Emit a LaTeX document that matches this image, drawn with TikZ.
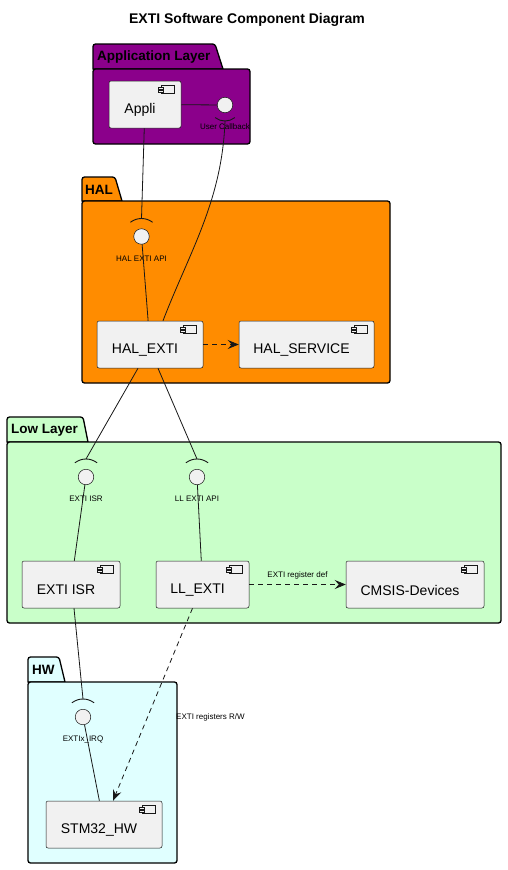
\documentclass[tikz,border=0pt]{standalone}
\usepackage{fontspec}
\setmainfont{Liberation Sans}
\usetikzlibrary{arrows.meta,calc}
\definecolor{appcol}{HTML}{8B008B}
\definecolor{halcol}{HTML}{FF8C00}
\definecolor{llcol}{HTML}{C9FFC9}
\definecolor{hwcol}{HTML}{E0FFFF}
\definecolor{compfill}{HTML}{F1F1F1}
\definecolor{compline}{HTML}{181818}
\tikzset{
  comp/.style={draw=compline, fill=compfill, line width=0.5pt, rounded corners=2pt,
    minimum height=47pt, inner sep=0pt},
  ctext/.style={font=\fontsize{14pt}{16pt}\selectfont, text=black, xshift=-5pt, yshift=-5.5pt},
  iface/.style={circle, draw=compline, fill=compfill, line width=0.5pt, minimum size=15.5pt, inner sep=0pt},
  ilabel/.style={font=\fontsize{8pt}{9pt}\selectfont, text=black, inner sep=0pt},
  pkgline/.style={draw=black, line width=1.3pt},
  pkgtitle/.style={font=\bfseries\fontsize{13.5pt}{15pt}\selectfont, text=black, inner sep=0pt, anchor=west},
  conn/.style={draw=compline, line width=0.8pt},
  dconn/.style={conn, dash pattern=on 5pt off 4pt, -{Stealth[length=11pt,width=9pt,inset=4pt]}},
  sock/.style={draw=compline, line width=0.9pt},
}
\newcommand{\compicon}[1]{%
  \draw[draw=compline, fill=compfill, line width=0.5pt] ($(#1.north east)+(-20,4)$) rectangle ($(#1.north east)+(-7,12)$);
  \draw[draw=compline, fill=compfill, line width=0.5pt] ($(#1.north east)+(-23,6)$) rectangle ($(#1.north east)+(-18.5,8)$);
  \draw[draw=compline, fill=compfill, line width=0.5pt] ($(#1.north east)+(-23,9.5)$) rectangle ($(#1.north east)+(-18.5,11.5)$);
}
% package: #1 left, #2 tab top, #3 tab bottom, #4 tab right top, #5 tab right bottom, #6 right, #7 bottom, #8 fill
\newcommand{\pkgbox}[8]{%
  \path[pkgline, fill=#8, rounded corners=2.5pt] (#1,#3) -- (#1,#2) -- (#4,#2) [sharp corners] -- (#5,#3) -- cycle;
  \path[pkgline, fill=#8, rounded corners=2.5pt] (#1,#3) rectangle (#6,#7);
}
\begin{document}
\begin{tikzpicture}[x=1pt,y=-1pt]
\useasboundingbox (0,0) rectangle (507,870);
\fill[white] (0,0) rectangle (507,870);

% title
\node[font=\bfseries\fontsize{14pt}{16pt}\selectfont] (title) at (247,20) {EXTI Software Component Diagram};

% packages
\pkgbox{93}{44}{69}{215}{223}{250}{144}{appcol}
\node[pkgtitle] (pkgapp) at (97,57) {Application Layer};
\pkgbox{82}{177}{201}{115}{122}{390}{383}{halcol}
\node[pkgtitle] (pkghal) at (85,190) {HAL};
\pkgbox{7}{417}{442}{83}{88}{501}{623}{llcol}
\node[pkgtitle] (pkgll) at (11,430) {Low Layer};
\pkgbox{28}{657}{682}{59}{65}{177}{863}{hwcol}
\node[pkgtitle] (pkghw) at (32,670) {HW};

% components
\node[comp, minimum width=72pt, label={[ctext]center:Appli}] (appli) at (145,104.5) {};
\compicon{appli}
\node[comp, minimum width=106pt, label={[ctext]center:HAL\_EXTI}] (halexti) at (150,344.5) {};
\compicon{halexti}
\node[comp, minimum width=135pt, label={[ctext]center:HAL\_SERVICE}] (halsvc) at (306.5,344.5) {};
\compicon{halsvc}
\node[comp, minimum width=98pt, label={[ctext]center:EXTI ISR}] (extiisr) at (71,584.5) {};
\compicon{extiisr}
\node[comp, minimum width=93pt, label={[ctext]center:LL\_EXTI}] (llexti) at (202.5,584.5) {};
\compicon{llexti}
\node[comp, minimum width=138pt, label={[ctext]center:CMSIS-Devices}] (cmsis) at (415,584.5) {};
\compicon{cmsis}
\node[comp, minimum width=116pt, label={[ctext]center:STM32\_HW}] (stm) at (104,824.5) {};
\compicon{stm}

% interfaces
\node[iface, label={[ilabel, label distance=11pt]below:User Callback}] (ucb) at (225,105) {};
\node[iface, label={[ilabel, label distance=11pt]below:HAL EXTI API}] (hapi) at (141.5,236.5) {};
\node[iface, label={[ilabel, label distance=11pt]below:EXTI ISR}] (isr) at (86,477) {};
\node[iface, label={[ilabel, label distance=11pt]below:LL EXTI API}] (llapi) at (197,477) {};
\node[iface, label={[ilabel, label distance=11pt]below:EXTIx\_IRQ}] (irq) at (83,717) {};

% sockets
\coordinate (ucbS) at ($(ucb.center)+(0,16)$);
\draw[sock] ($(ucb.center)+(52:16)$) arc[start angle=52, end angle=128, radius=16];
\coordinate (hapiS) at ($(hapi.center)+(0,-18)$);
\draw[sock] ($(hapi.center)+(232:18)$) arc[start angle=232, end angle=308, radius=18];
\coordinate (isrS) at ($(isr.center)+(0,-18)$);
\draw[sock] ($(isr.center)+(232:18)$) arc[start angle=232, end angle=308, radius=18];
\coordinate (llapiS) at ($(llapi.center)+(0,-18)$);
\draw[sock] ($(llapi.center)+(232:18)$) arc[start angle=232, end angle=308, radius=18];
\coordinate (irqS) at ($(irq.center)+(0,-18)$);
\draw[sock] ($(irq.center)+(232:18)$) arc[start angle=232, end angle=308, radius=18];

% connectors
\draw[conn] (appli) -- (ucb);
\draw[conn] (appli) -- (hapiS);
\draw[conn] (hapi) -- (halexti);
\draw[conn] (ucbS) .. controls ($(ucbS)+(-3,80)$) and ($(halexti.north)+(40,-70)$) .. ($(halexti.north)+(13,0)$);
\draw[dconn] (halexti) -- (halsvc);
\draw[conn] ($(halexti.south)+(-12,0)$) -- (isrS);
\draw[conn] ($(halexti.south)+(8,0)$) -- (llapiS);
\draw[conn] (isr) -- (extiisr);
\draw[conn] (llapi) -- (llexti);
\draw[dconn] (llexti) -- node[ilabel, above=5pt] (regdef) {EXTI register def} (cmsis);
\draw[conn] ($(extiisr.south)+(3,0)$) -- (irqS);
\draw[conn] (irq) -- (stm);
\draw[dconn] ($(llexti.south)+(-10,0)$) -- ($(stm.north)+(9,0)$);
\node[ilabel, anchor=west] (regrw) at (176,717) {EXTI registers R/W};
\end{tikzpicture}
\end{document}
